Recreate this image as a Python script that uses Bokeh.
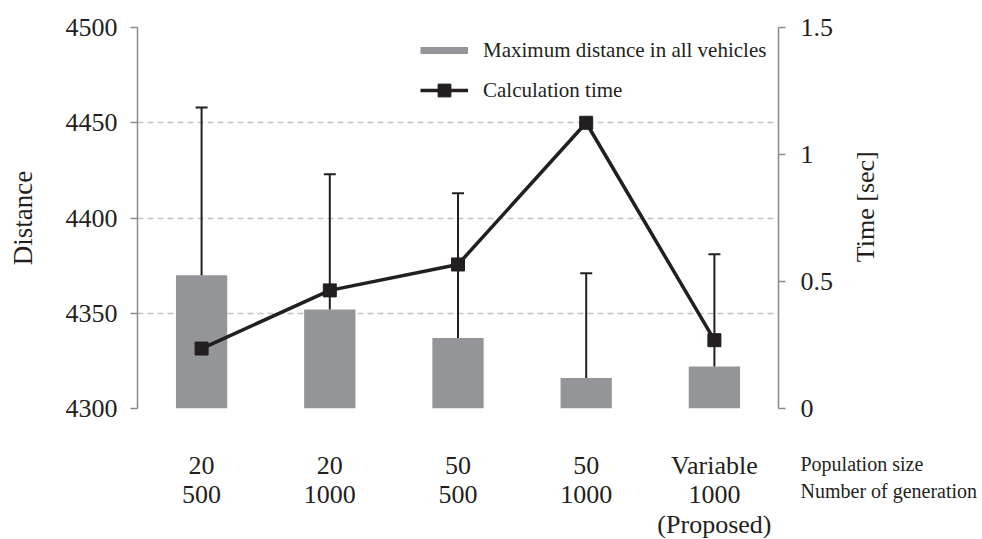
import math
from bokeh.plotting import figure
from bokeh.layouts import column, row
from bokeh.models import (ColumnDataSource, FactorRange, Range1d, LinearAxis, FixedTicker,
                          Whisker, TeeHead, Legend, LegendItem)
from bokeh.core.properties import value
from bokeh.embed import file_html
from bokeh.resources import INLINE

# ---------------- data ----------------
pop_sizes = ["20", "20", "50", "50", "Variable"]
generations = ["500", "1000", "500", "1000", "1000"]
notes = ["", "", "", "", "(Proposed)"]
distance = [4370, 4352, 4337, 4316, 4322]
distance_err = [88, 71, 76, 55, 59]
calc_time = [0.236, 0.465, 0.567, 1.125, 0.269]
left_ticks = [4300, 4350, 4400, 4450, 4500]
right_ticks = [0, 0.5, 1, 1.5]
right_tick_labels = ["0", "0.5", "1", "1.5"]
row_names = ["Population size", "Number of generation"]
series_names = ["Maximum distance in all vehicles", "Calculation time"]
y_title, y2_title = "Distance", "Time [sec]"

categories = [f"{a} / {b}" for a, b in zip(pop_sizes, generations)]

# ---------------- layout ----------------
W, H = 982, 539
WA, HA = 840, 440                   # main figure
FL, FR, FT, FB = 137, 778, 27, 408  # frame edges (px)
FW = FR - FL
CW = FW / len(categories)           # px per category
FONT = "Liberation Serif, Times New Roman, serif"
INK = "#231f20"
AXC = "#8a8a8a"
Y0, Y1 = left_ticks[0], left_ticks[-1]

src = ColumnDataSource(dict(
    cat=categories,
    dist=distance,
    hi=[d + e for d, e in zip(distance, distance_err)],
    time=calc_time,
))

p = figure(width=WA, height=HA, x_range=FactorRange(*categories), y_range=Range1d(Y0, Y1),
           output_backend="svg", toolbar_location=None,
           min_border_left=FL, min_border_right=WA - FR, min_border_top=FT,
           min_border_bottom=HA - FB, outline_line_color=None)
p.extra_y_ranges = {"time": Range1d(0, 1.5)}

# grid
lt = FixedTicker(ticks=left_ticks)
p.ygrid.ticker = lt
p.ygrid.grid_line_color = "#c4c4c4"
p.ygrid.grid_line_width = 1.5
p.ygrid.grid_line_dash = "6 4"
p.xgrid.visible = False


def style_axis(ax, standoff):
    ax.axis_line_color = AXC
    ax.axis_line_width = 1.5
    ax.major_tick_line_color = AXC
    ax.major_tick_line_width = 1.5
    ax.major_tick_out = 7
    ax.major_tick_in = 0
    ax.minor_tick_line_color = None
    ax.major_label_standoff = standoff
    ax.major_label_text_font = FONT
    ax.major_label_text_font_size = "26px"
    ax.major_label_text_color = INK


# left axis
ya = p.yaxis[0]
ya.ticker = lt
style_axis(ya, 13)
ya.axis_label = y_title
ya.axis_label_text_font = FONT
ya.axis_label_text_font_size = "27px"
ya.axis_label_text_font_style = "normal"
ya.axis_label_text_color = INK
ya.axis_label_standoff = 25

# right axis (its title is drawn in the side panel figure, reading upwards)
ra = LinearAxis(y_range_name="time", ticker=FixedTicker(ticks=right_ticks),
                major_label_overrides=dict(zip(right_ticks, right_tick_labels)))
style_axis(ra, 15)
p.add_layout(ra, "right")

# x axis labels are drawn in the panel below
p.xaxis.visible = False

# bars
bars = p.vbar(x="cat", top="dist", bottom=Y0, width=0.4, source=src,
              fill_color="#939598", line_color=None)

# error bars
wh = Whisker(base="cat", lower="dist", upper="hi", source=src, dimension="height",
             line_color=INK, line_width=2, level="glyph",
             upper_head=TeeHead(size=12, line_color=INK, line_width=2), lower_head=None)
p.add_layout(wh)

# time line
ln = p.line(x="cat", y="time", source=src, y_range_name="time", line_color=INK, line_width=3.5)
mk = p.scatter(x="cat", y="time", source=src, y_range_name="time", marker="square",
               size=13, fill_color=INK, line_color=INK)

# legend (proxy line for the bar series, no visible points)
proxy = p.line(x=[categories[0], categories[0]], y=[float("nan"), float("nan")],
               line_color="#939598", line_width=7)
legend = Legend(items=[LegendItem(label=series_names[0], renderers=[proxy]),
                       LegendItem(label=series_names[1], renderers=[ln, mk])],
                location=(283, 302), glyph_width=48, glyph_height=32, label_standoff=15,
                spacing=8, padding=0, margin=0, border_line_color=None,
                background_fill_alpha=0, label_text_font=FONT, label_text_font_size="21px",
                label_text_color=INK)
p.add_layout(legend)

# ---------------- right panel: "Time [sec]" ----------------
WR = W - WA
pr = figure(width=WR, height=HA, x_range=Range1d(0, WR), y_range=Range1d(HA, 0),
            output_backend="svg", toolbar_location=None, x_axis_location=None,
            y_axis_location=None, min_border=0, outline_line_color=None)
pr.grid.visible = False
pr.text(x=[865 - WA], y=[207], text=[y2_title], angle=math.pi / 2, text_align="center",
        text_baseline="middle", text_font=value(FONT), text_font_size="26px", text_color=INK)

# ---------------- bottom panel: category labels ----------------
HB = H - HA
xr = Range1d(-FL / CW, (W - FL) / CW)   # category units, centres at i + 0.5
pb = figure(width=W, height=HB, x_range=xr, y_range=Range1d(HB, 0),
            output_backend="svg", toolbar_location=None, x_axis_location=None,
            y_axis_location=None, min_border=0, outline_line_color=None)
pb.grid.visible = False
xc = [i + 0.5 for i in range(len(categories))]
for labels, yy in [(pop_sizes, 465 - HA), (generations, 494 - HA), (notes, 524 - HA)]:
    pb.text(x=xc, y=[yy] * len(xc), text=labels, text_align="center", text_baseline="middle",
            text_font=value(FONT), text_font_size="26px", text_color=INK)
pb.text(x=[(800 - FL) / CW] * 2, y=[463 - HA, 490 - HA], text=row_names, text_align="left",
        text_baseline="middle", text_font=value(FONT), text_font_size="20px", text_color=INK)

layout = column(row(p, pr, spacing=0), pb, spacing=0)
open("out.html", "w").write(file_html(layout, INLINE))
